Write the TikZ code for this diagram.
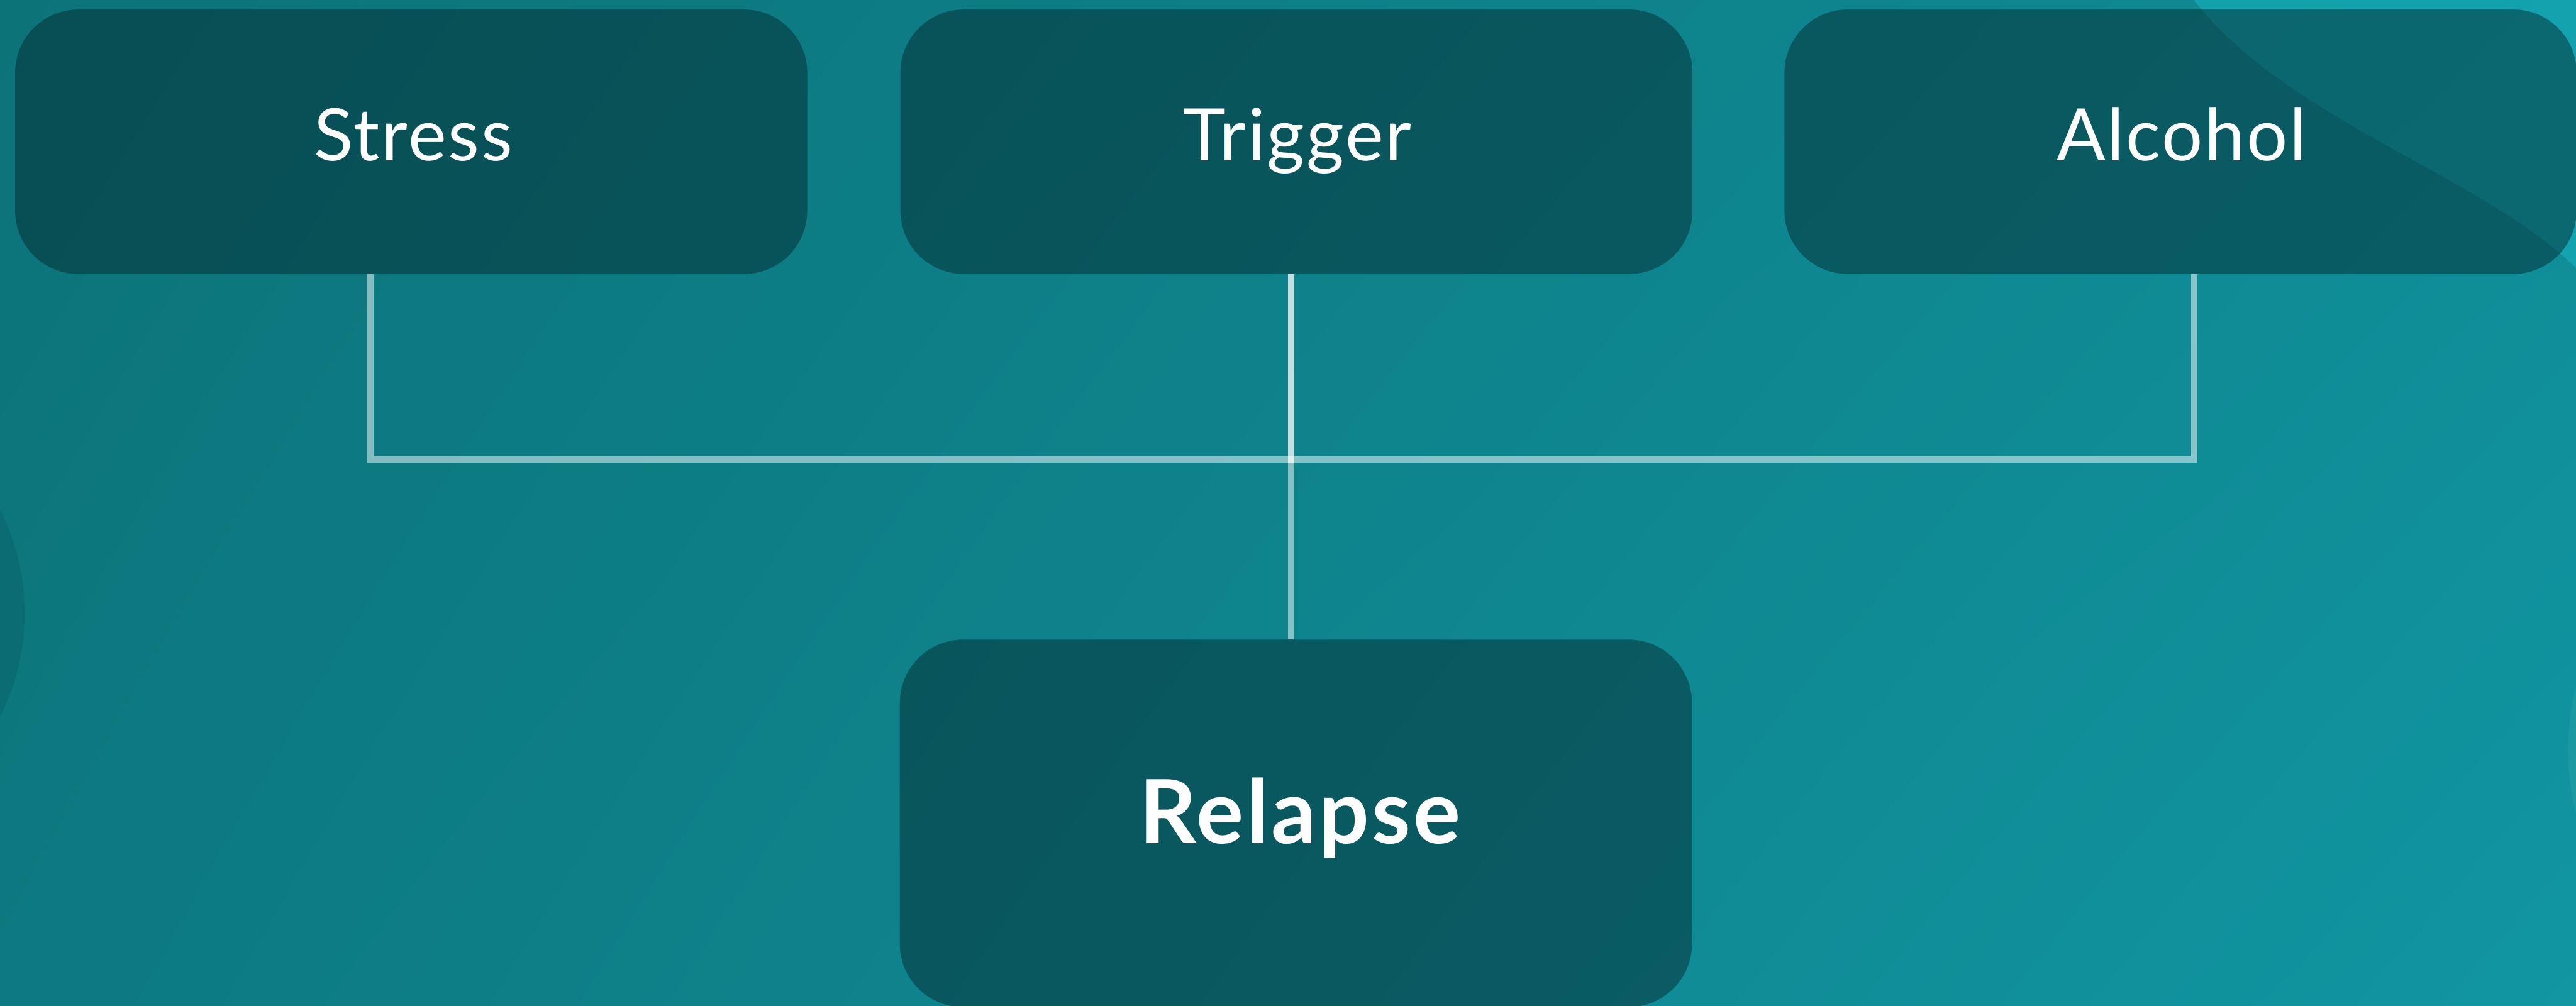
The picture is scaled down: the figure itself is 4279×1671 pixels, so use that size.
\documentclass[tikz,border=0pt]{standalone}
\usepackage{fontspec}
\usetikzlibrary{shadings}
\setmainfont{Lato}
\definecolor{bgUL}{RGB}{12,115,121}
\definecolor{bgUR}{RGB}{15,140,150}
\definecolor{bgLL}{RGB}{13,121,128}
\definecolor{bgLR}{RGB}{17,150,162}
\definecolor{boxc}{RGB}{4,39,45}
\definecolor{blobc}{RGB}{22,178,190}
\tikzset{
  stepbox/.style={rectangle, rounded corners=1.05cm, fill=boxc, fill opacity=0.48, minimum width=13.15cm, minimum height=4.39cm, inner sep=0pt, draw=none},
  lbl/.style={text=white, font=\fontsize{34.2}{40}\selectfont\addfontfeature{LetterSpace=2.5}, anchor=base, inner sep=0pt},
  biglbl/.style={text=white, font=\fontsize{41.8}{48}\selectfont\bfseries\addfontfeature{LetterSpace=3}, anchor=base, inner sep=0pt},
  conn/.style={draw=white, draw opacity=0.5, line width=0.105cm, line join=miter, line cap=butt},
}
\begin{document}
\begin{tikzpicture}[x=0.01cm, y=-0.01cm]
\useasboundingbox (0,0) rectangle (4279,1671);
\begin{scope}
\clip (0,0) rectangle (4279,1671);
\shade[upper left=bgUL, upper right=bgUR, lower left=bgLL, lower right=bgLR] (0,0) rectangle (4279,1671);
\fill[black, opacity=0.08] (-340,1019) circle[radius=381];
\fill[white, opacity=0.05] (4696,1246) circle[radius=430];
\fill[blobc, opacity=0.6] (3644,0) .. controls (3800,200) and (4120,290) .. (4279,445) -- (4279,0) -- cycle;

% boxes
\node[stepbox] (stress) at (683,235.5) {};
\node[stepbox] (trigger) at (2153.5,235.5) {};
\node[stepbox] (alcohol) at (3622,235.5) {};
\node[stepbox, minimum height=6.1cm] (relapse) at (2152.5,1368) {};

% connectors
\coordinate (sx) at (615.5,764);
\coordinate (tx) at (2144.5,764);
\coordinate (txb) at (2144.5,769.5);
\coordinate (ax) at (3645,764);
\draw[conn] (stress.south -| sx) -- (sx) -- (ax) -- (alcohol.south -| ax);
\draw[conn] (trigger.south -| tx) -- (relapse.north -| tx);
\draw[conn] (trigger.south -| tx) -- (txb);

% labels
\node[lbl] (stressT) at (687,267) {Stress};
\node[lbl] (triggerT) at (2155,267) {Trigger};
\node[lbl] (alcoholT) at (3624,267) {Alcohol};
\node[biglbl] (relapseT) at (2160,1401) {Relapse};
\end{scope}
\end{tikzpicture}
\end{document}
